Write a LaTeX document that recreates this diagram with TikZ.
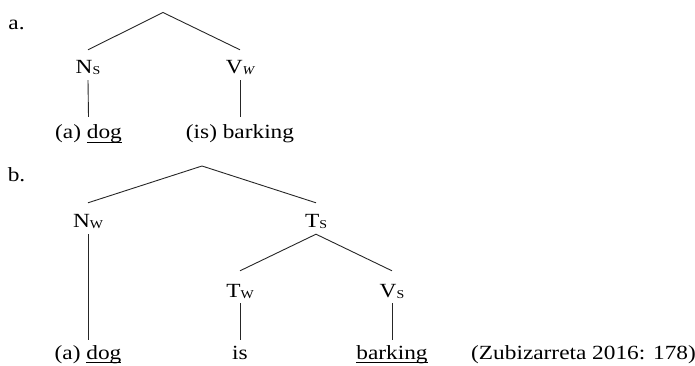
\documentclass[tikz,border=0pt]{standalone}
\usepackage{fontspec}
\setmainfont{Liberation Serif}[FakeStretch=1.16]
\newcommand\subl[1]{\raisebox{-1pt}{\fontsize{12}{12}\selectfont #1}}
\newcommand\ulword[1]{\setbox0\hbox{#1}\rlap{\rule[-3.8pt]{\wd0}{0.9pt}}\box0}
\begin{document}
\begin{tikzpicture}[x=1pt,y=-1pt,
  lab/.style={anchor=base, inner sep=0pt, text height=13.5pt, text depth=3pt,
    font=\fontsize{20.1}{24}\selectfont},
  edge/.style={draw=black!85, line width=0.9pt}]
\useasboundingbox (0,0) rectangle (695,366);
% (a)
\node[lab] (la) at (16.5,30) {a.};
\coordinate (ta) at (163,12.5);
\node[lab] (ns) at (88,74) {N\subl{S}};
\node[lab] (vw) at (240,74) {V\subl{\itshape W}};
\node[lab] (dog1) at (88.5,139) {(a) \ulword{dog}};
\node[lab] (bark1) at (240,139) {(is) barking};
\draw[edge] ([yshift=10.5pt]ns.north) -- (ta) -- ([yshift=10.5pt]vw.north);
\draw[edge] ([yshift=-3pt]ns.south) -- ([yshift=8.5pt]dog1.north);
\draw[edge] ([yshift=-3pt]vw.south) -- ([yshift=8.5pt]bark1.north);
% (b)
\node[lab] (lb) at (16.5,182) {b.};
\coordinate (tb) at (202,166);
\node[lab] (nw) at (88,227) {N\subl{W}};
\node[lab] (ts) at (316,227) {T\subl{S}};
\node[lab] (tw) at (240,297) {T\subl{W}};
\node[lab] (vs) at (392,297) {V\subl{S}};
\node[lab] (dog2) at (88,359) {(a) \ulword{dog}};
\node[lab] (is) at (240,359) {is};
\node[lab] (bark2) at (392,359) {\ulword{barking}};
\node[lab, anchor=base west] (ref) at (471,359) {(Zubizarreta 2016: 178)};
\draw[edge] ([yshift=10.5pt]nw.north) -- (tb) -- ([yshift=10.5pt]ts.north);
\draw[edge] ([yshift=12.5pt]tw.north) -- ([yshift=-4pt]ts.south) -- ([yshift=12.5pt]vs.north);
\draw[edge] ([yshift=-4pt]nw.south) -- ([yshift=5.5pt]dog2.north);
\draw[edge] ([yshift=-3pt]tw.south) -- ([yshift=5.5pt]is.north);
\draw[edge] ([yshift=-3pt]vs.south) -- ([yshift=5.5pt]bark2.north);
\end{tikzpicture}
\end{document}
